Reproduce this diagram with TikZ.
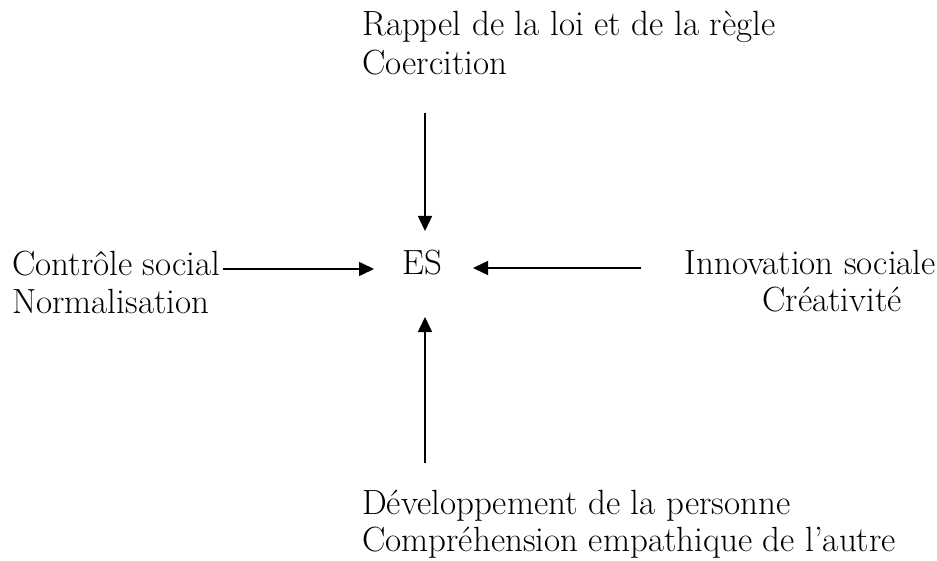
\documentclass[tikz,border=0pt]{standalone}
\usetikzlibrary{arrows.meta}
\tikzset{
  lbl/.style={inner sep=0pt, anchor=base west, font=\fontsize{35}{40}\selectfont},
  arr/.style={line width=1.6pt, -{Triangle[length=15pt,width=14pt]}}
}
\begin{document}
\begin{tikzpicture}[x=1pt,y=-1pt]
\useasboundingbox (0,0) rectangle (937,561);
\node[lbl] (t1) at (362,36) {Rappel de la loi et de la règle};
\node[lbl] (t2) at (362,75) {Coercition};
\node[lbl, anchor=base] (es) at (422,275) {ES};
\node[lbl] (l1) at (12,276) {Contrôle social};
\node[lbl] (l2) at (12,313) {Normalisation};
\node[lbl, anchor=base east] (r1) at (936,275) {Innovation sociale};
\node[lbl, anchor=base east] (r2) at (902,312) {Créativité};
\node[lbl] (b1) at (362,514) {Développement de la personne};
\node[lbl] (b2) at (362,551) {Compréhension empathique de l'autre};
\coordinate (topS) at (425,113);
\coordinate (topE) at (425,231);
\coordinate (leftE) at (374,269);
\coordinate (rightS) at (641,268);
\coordinate (rightE) at (473,268);
\coordinate (botS) at (425,463);
\coordinate (botE) at (425,317);
\draw[arr] ([xshift=2pt]l1.east |- leftE) -- (leftE);
\draw[arr] (topS) -- (topE);
\draw[arr] (rightS) -- (rightE);
\draw[arr] (botS) -- (botE);
\end{tikzpicture}
\end{document}
